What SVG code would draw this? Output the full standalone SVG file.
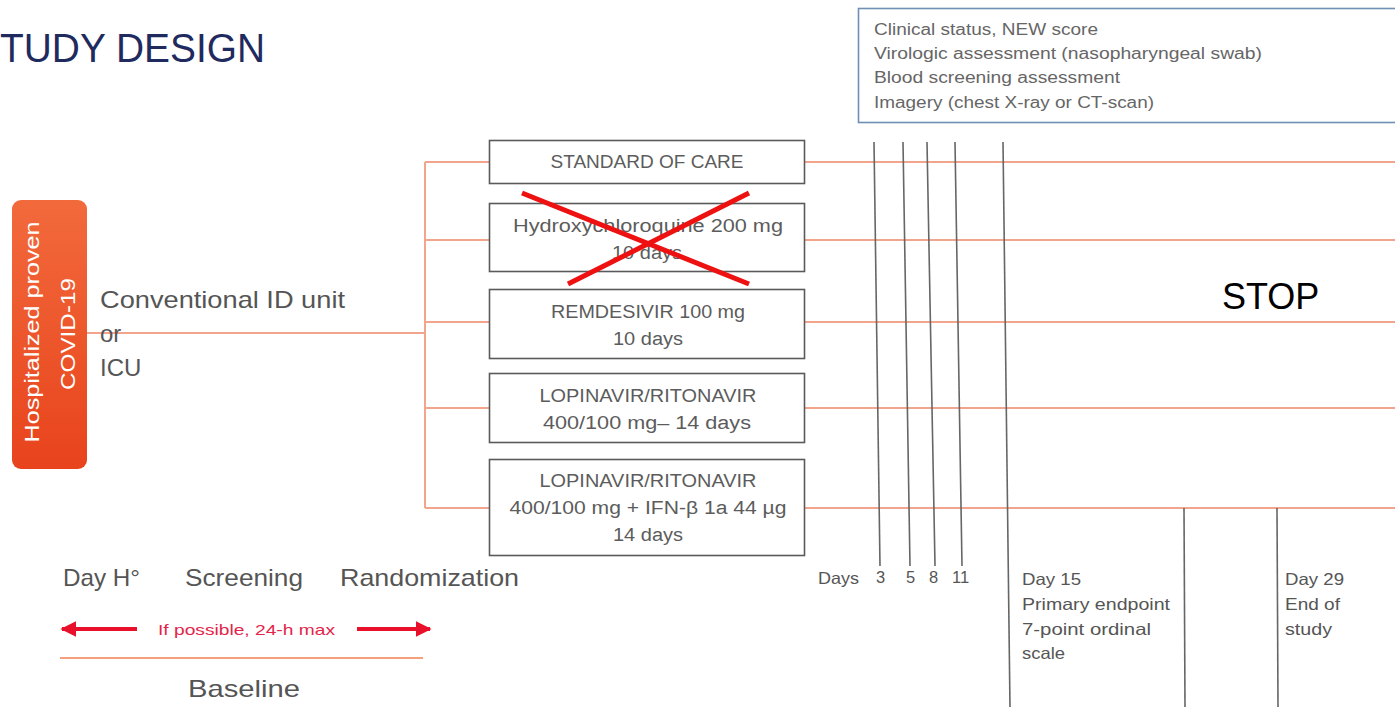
<svg xmlns="http://www.w3.org/2000/svg" width="1395" height="707" viewBox="0 0 1395 707">
<defs>
<linearGradient id="og" x1="0" y1="0" x2="0" y2="1">
<stop offset="0" stop-color="#f26a3c"/>
<stop offset="1" stop-color="#e8431c"/>
</linearGradient>
<marker id="ah" viewBox="0 0 10 10" refX="9" refY="5" markerWidth="4" markerHeight="4" orient="auto-start-reverse" markerUnits="strokeWidth">
<path d="M0,0 L10,5 L0,10 z" fill="#e8102a"/>
</marker>
<style>
text{font-family:"Liberation Sans",Arial,sans-serif;}
.box{fill:#fff;stroke:#5a5a5a;stroke-width:1.6;}
.bt{fill:#5c5c5c;font-size:18px;text-anchor:middle;}
.or{stroke:#f3a48c;stroke-width:2;fill:none;}
.vl{stroke:#666;stroke-width:1.6;fill:none;}
.info{fill:#666;font-size:16px;}
.lbl{fill:#555;font-size:24px;}
.sm{fill:#555;font-size:16.5px;}
</style>
</defs>
<rect width="1395" height="707" fill="#fff"/>
<text x="0" y="62" font-size="40" fill="#1f2a5e" textLength="265" lengthAdjust="spacingAndGlyphs">TUDY DESIGN</text>

<g id="info">
<rect x="858.5" y="8.5" width="545" height="114" fill="#fff" stroke="#6f8fb3" stroke-width="1.6"/>
<text class="info" x="874" y="35" textLength="224" lengthAdjust="spacingAndGlyphs">Clinical status, NEW score</text>
<text class="info" x="874" y="59" textLength="388" lengthAdjust="spacingAndGlyphs">Virologic assessment (nasopharyngeal swab)</text>
<text class="info" x="874" y="83" textLength="246" lengthAdjust="spacingAndGlyphs">Blood screening assessment</text>
<text class="info" x="874" y="108" textLength="280" lengthAdjust="spacingAndGlyphs">Imagery (chest X-ray or CT-scan)</text>
</g>

<g id="connectors">
<line class="or" x1="85" y1="333" x2="425" y2="333"/>
<line class="or" x1="425" y1="162" x2="425" y2="508"/>
<line class="or" x1="425" y1="162" x2="490" y2="162"/>
<line class="or" x1="425" y1="240" x2="490" y2="240"/>
<line class="or" x1="425" y1="322" x2="490" y2="322"/>
<line class="or" x1="425" y1="408" x2="490" y2="408"/>
<line class="or" x1="425" y1="508" x2="490" y2="508"/>
<line class="or" x1="805" y1="162" x2="1395" y2="162"/>
<line class="or" x1="805" y1="240" x2="1395" y2="240"/>
<line class="or" x1="805" y1="322" x2="1395" y2="322" stroke-width="2.6"/>
<line class="or" x1="805" y1="408" x2="1395" y2="408"/>
<line class="or" x1="805" y1="508" x2="1395" y2="508"/>
<line class="vl" x1="874" y1="142" x2="880" y2="566"/>
<line class="vl" x1="903" y1="142" x2="910" y2="566"/>
<line class="vl" x1="927" y1="142" x2="935" y2="566"/>
<line class="vl" x1="955" y1="142" x2="962" y2="566"/>
<line class="vl" x1="1003" y1="142" x2="1010" y2="707"/>
<line class="vl" x1="1184" y1="508" x2="1185" y2="707"/>
<line class="vl" x1="1277" y1="508" x2="1278" y2="707"/>
<line x1="137" y1="629" x2="62" y2="629" stroke="#e8102a" stroke-width="4" marker-end="url(#ah)"/>
<line x1="357" y1="629" x2="430" y2="629" stroke="#e8102a" stroke-width="4" marker-end="url(#ah)"/>
<line x1="60" y1="658" x2="423" y2="658" stroke="#f4a07a" stroke-width="2"/>
</g>

<g id="covid">
<rect x="12" y="200" width="75" height="269" rx="9" fill="url(#og)"/>
<text transform="translate(39,332) rotate(-90)" font-size="21" fill="#fff" text-anchor="middle" textLength="221" lengthAdjust="spacingAndGlyphs">Hospitalized proven</text>
<text transform="translate(75,334) rotate(-90)" font-size="21" fill="#fff" text-anchor="middle" textLength="112" lengthAdjust="spacingAndGlyphs">COVID-19</text>
</g>

<g id="unit">
<text class="lbl" x="100" y="308" textLength="245" lengthAdjust="spacingAndGlyphs">Conventional ID unit</text>
<text class="lbl" x="100" y="342">or</text>
<text class="lbl" x="100" y="376">ICU</text>
</g>

<g id="soc">
<rect class="box" x="489.5" y="140.5" width="315" height="43"/>
<text class="bt" x="647" y="168" textLength="193" lengthAdjust="spacingAndGlyphs">STANDARD OF CARE</text>
</g>
<g id="hcq">
<rect class="box" x="489.5" y="203.5" width="315" height="68"/>
<text class="bt" x="648" y="232" textLength="270" lengthAdjust="spacingAndGlyphs">Hydroxychloroquine 200 mg</text>
<text class="bt" x="647" y="259" textLength="70" lengthAdjust="spacingAndGlyphs">10 days</text>
<line x1="522" y1="193" x2="749" y2="284" stroke="#ee1111" stroke-width="5"/>
<line x1="749" y1="193" x2="568" y2="284" stroke="#ee1111" stroke-width="5"/>
</g>
<g id="remdesivir">
<rect class="box" x="489.5" y="289.5" width="315" height="69"/>
<text class="bt" x="648" y="318" textLength="194" lengthAdjust="spacingAndGlyphs">REMDESIVIR 100 mg</text>
<text class="bt" x="648" y="345" textLength="70" lengthAdjust="spacingAndGlyphs">10 days</text>
</g>
<g id="lpv">
<rect class="box" x="489.5" y="373.5" width="315" height="69"/>
<text class="bt" x="648" y="402" textLength="217" lengthAdjust="spacingAndGlyphs">LOPINAVIR/RITONAVIR</text>
<text class="bt" x="647" y="429" textLength="208" lengthAdjust="spacingAndGlyphs">400/100 mg– 14 days</text>
</g>
<g id="lpvifn">
<rect class="box" x="489.5" y="459.5" width="315" height="96"/>
<text class="bt" x="648" y="487" textLength="217" lengthAdjust="spacingAndGlyphs">LOPINAVIR/RITONAVIR</text>
<text class="bt" x="648" y="514" textLength="277" lengthAdjust="spacingAndGlyphs">400/100 mg + IFN-β 1a 44 µg</text>
<text class="bt" x="648" y="541" textLength="70" lengthAdjust="spacingAndGlyphs">14 days</text>
</g>

<text x="1222" y="309" font-size="36" fill="#000">STOP</text>

<g id="days">
<text class="sm" x="818" y="584" textLength="41" lengthAdjust="spacingAndGlyphs">Days</text>
<text class="sm" x="876" y="583">3</text>
<text class="sm" x="906" y="583">5</text>
<text class="sm" x="929" y="583">8</text>
<text class="sm" x="952" y="583">11</text>
<text class="sm" x="1022" y="585" textLength="59" lengthAdjust="spacingAndGlyphs">Day 15</text>
<text class="sm" x="1022" y="610" textLength="148" lengthAdjust="spacingAndGlyphs">Primary endpoint</text>
<text class="sm" x="1022" y="635" textLength="129" lengthAdjust="spacingAndGlyphs">7-point ordinal</text>
<text class="sm" x="1022" y="659" textLength="43" lengthAdjust="spacingAndGlyphs">scale</text>
<text class="sm" x="1285" y="585" textLength="59" lengthAdjust="spacingAndGlyphs">Day 29</text>
<text class="sm" x="1285" y="610" textLength="55" lengthAdjust="spacingAndGlyphs">End of</text>
<text class="sm" x="1285" y="635" textLength="47" lengthAdjust="spacingAndGlyphs">study</text>
</g>

<g id="timeline">
<text class="lbl" x="63" y="586" textLength="77" lengthAdjust="spacingAndGlyphs">Day H°</text>
<text class="lbl" x="185" y="586" textLength="118" lengthAdjust="spacingAndGlyphs">Screening</text>
<text class="lbl" x="340" y="586" textLength="179" lengthAdjust="spacingAndGlyphs">Randomization</text>
<text x="158" y="635" font-size="15" fill="#e3244a" textLength="177" lengthAdjust="spacingAndGlyphs">If possible, 24-h max</text>
<text class="lbl" x="244" y="697" text-anchor="middle" textLength="112" lengthAdjust="spacingAndGlyphs">Baseline</text>
</g>
</svg>
